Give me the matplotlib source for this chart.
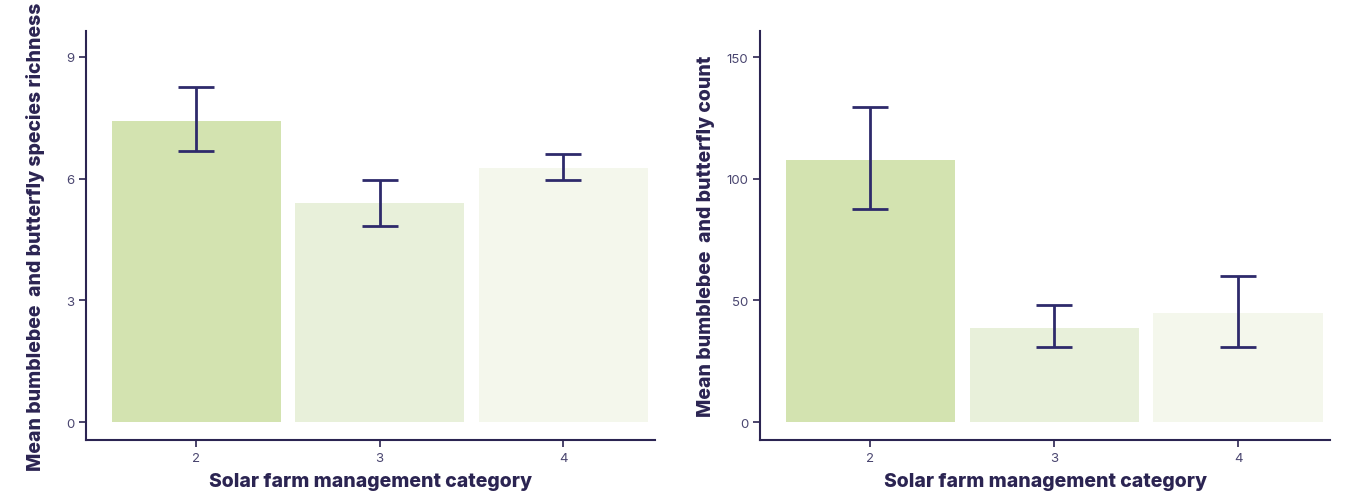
import matplotlib
matplotlib.use('Agg')
import matplotlib.pyplot as plt
import numpy as np

# management categories and the summary stats per category
categories = [2, 3, 4]
richness_mean = [7.42, 5.40, 6.26]
richness_lo = [6.68, 4.83, 5.97]
richness_hi = [8.26, 5.97, 6.61]
count_mean = [107.7, 38.6, 44.8]
count_lo = [87.5, 30.8, 30.8]
count_hi = [129.5, 48.1, 60.0]

barColors = ['#d3e3b0', '#e8f0da', '#f4f7ec']
navy = '#2e2a6b'
axisColor = '#2b2452'
tickColor = '#4a4670'

plt.rcParams['font.family'] = ['Inter', 'DejaVu Sans']

fig = plt.figure(figsize=(13.49, 5.02), dpi=100)

def panel(rect, mean, lo, hi, ylim, yticks, ylabel, pad):
    ax = fig.add_axes(rect)
    x = np.array(categories)
    m = np.array(mean)
    err = [m - np.array(lo), np.array(hi) - m]
    ax.bar(x, m, width=0.92, color=barColors, zorder=1)
    ax.errorbar(x, m, yerr=err, fmt='none', ecolor=navy, elinewidth=2,
                capsize=13, capthick=2, zorder=2)
    ax.set_xlim(1.4, 4.5)
    ax.set_ylim(*ylim)
    ax.set_xticks(categories)
    ax.set_yticks(yticks)
    for s in ['top', 'right']:
        ax.spines[s].set_visible(False)
    for s in ['left', 'bottom']:
        ax.spines[s].set_color(axisColor)
        ax.spines[s].set_linewidth(1.5)
    ax.tick_params(colors=axisColor, labelcolor=tickColor, labelsize=9.5,
                   length=5, width=1.2)
    ax.set_xlabel('Solar farm management category', fontsize=14,
                  fontweight='heavy', color=axisColor, labelpad=6)
    ax.set_ylabel(ylabel, fontsize=14, fontweight='heavy', color=axisColor,
                  labelpad=pad)
    return ax

ax1 = panel([0.0638, 0.1215, 0.4218, 0.8147], richness_mean, richness_lo,
            richness_hi, (-0.44, 9.64), [0, 3, 6, 9],
            'Mean bumblebee  and butterfly species richness', 15)
ax2 = panel([0.5634, 0.1215, 0.4225, 0.8147], count_mean, count_lo,
            count_hi, (-7.4, 160.7), [0, 50, 100, 150],
            'Mean bumblebee  and butterfly count', 8)

fig.savefig('out.png', dpi=100)
